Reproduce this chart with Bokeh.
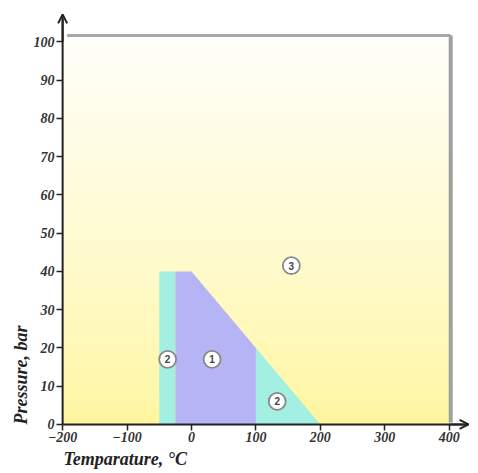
import numpy as np
from bokeh.plotting import figure
from bokeh.models import FixedTicker, Arrow, OpenHead, ColumnDataSource, Title
from bokeh.embed import file_html
from bokeh.resources import INLINE

# ---- data ----
region2_left_x = [-50, -25, -25, -50]
region2_left_y = [0, 0, 40, 40]
region1_x = [-25, 100, 100, 0, -25]
region1_y = [0, 0, 20, 40, 40]
region2_right_x = [100, 200, 100]
region2_right_y = [0, 0, 20]

marker_x = [-37, 32, 133, 155]
marker_y = [17, 17, 6, 41.5]
marker_text = ["2", "1", "2", "3"]

x_ticks = [-200, -100, 0, 100, 200, 300, 400]
y_ticks = [0, 10, 20, 30, 40, 50, 60, 70, 80, 90, 100]

X_MIN, X_MAX = -200, 400
Y_MIN, Y_MAX = 0, 101.3
X_LO, X_HI = -209.5, 433
Y_LO, Y_HI = -1.6, 107.7

p = figure(width=478, height=473, output_backend="svg", toolbar_location=None,
           x_range=(X_LO, X_HI), y_range=(Y_LO, Y_HI),
           min_border_left=56, min_border_right=8, min_border_top=12, min_border_bottom=43)
p.outline_line_color = None
p.grid.visible = False
p.background_fill_color = "white"
p.border_fill_color = "white"

# gradient background
n = 200
t = np.linspace(0, 1, n)[:, None]  # bottom -> top
bot = np.array([255, 246, 158]); top = np.array([255, 255, 250])
w = t ** 0.8
cols = (bot * (1 - w) + top * w).astype(np.uint32)
img = np.empty((n, 2), dtype=np.uint32)
view = img.view(dtype=np.uint8).reshape((n, 2, 4))
view[:, :, 0] = cols[:, 0:1]
view[:, :, 1] = cols[:, 1:2]
view[:, :, 2] = cols[:, 2:3]
view[:, :, 3] = 255
p.image_rgba(image=[img], x=X_MIN, y=Y_MIN, dw=X_MAX - X_MIN, dh=Y_MAX - Y_MIN)

# shadow frame
p.line([-193, 402.3], [Y_MAX + 0.4, Y_MAX + 0.4], line_color="#a8a8a8", line_width=3)
p.line([402.3, 402.3], [0.5, Y_MAX + 0.4], line_color="#a0a0a0", line_width=4)

p.patch(region2_left_x, region2_left_y, fill_color="#a3f0e3", line_color=None)
p.patch(region1_x, region1_y, fill_color="#b5b5f5", line_color=None)
p.patch(region2_right_x, region2_right_y, fill_color="#a3f0e3", line_color=None)

src = ColumnDataSource(dict(x=marker_x, y=marker_y, t=marker_text))
p.scatter("x", "y", source=src, size=17, fill_color="white", line_color="#888888", line_width=1.8)
p.text("x", "y", text="t", source=src, text_align="center", text_baseline="middle",
       text_font_size="10px", text_color="#444444", text_font_style="bold")

# axis lines (drawn inside the frame so the arrowheads are not clipped)
p.line([X_MIN, 428], [0, 0], line_color="#222222", line_width=2)
p.line([X_MIN, X_MIN], [0, 106], line_color="#222222", line_width=2)
p.add_layout(Arrow(end=OpenHead(size=9, line_width=2, line_color="#222222"),
                   x_start=X_MIN, y_start=100, x_end=X_MIN, y_end=107.2,
                   line_width=2, line_color="#222222"))
p.add_layout(Arrow(end=OpenHead(size=9, line_width=2, line_color="#222222"),
                   x_start=400, y_start=0, x_end=430, y_end=0,
                   line_width=2, line_color="#222222"))

for ax in (p.xaxis, p.yaxis):
    ax.axis_line_color = None
    ax.major_tick_line_color = "#222222"
    ax.major_tick_line_width = 1.5
    ax.major_tick_out = 0
    ax.major_tick_in = 6
    ax.minor_tick_line_color = None
    ax.major_label_text_font = "Liberation Serif"
    ax.major_label_text_font_style = "bold italic"
    ax.major_label_text_font_size = "14px"
    ax.major_label_text_color = "#333333"
p.xaxis.ticker = FixedTicker(ticks=x_ticks)
p.yaxis.ticker = FixedTicker(ticks=y_ticks)
p.xaxis.major_label_standoff = 1
p.yaxis.major_label_standoff = 2

p.add_layout(Title(text="Temparature, \u00b0C", align="left", offset=7, standoff=5,
                   text_font="Liberation Serif", text_font_style="bold italic",
                   text_font_size="18px", text_color="#222222"), "below")
p.add_layout(Title(text="Pressure, bar", align="left", offset=6, standoff=0,
                   text_font="Liberation Serif", text_font_style="bold italic",
                   text_font_size="18px", text_color="#222222"), "left")

open("out.html", "w").write(file_html(p, INLINE))
